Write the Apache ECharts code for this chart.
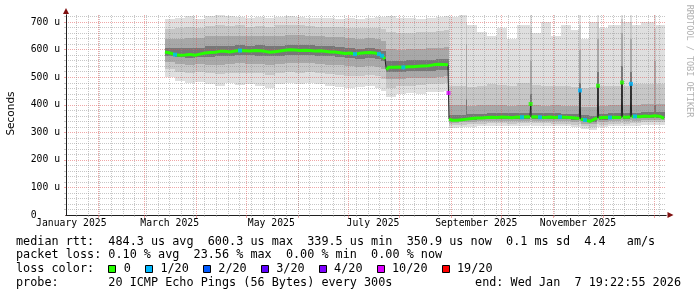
<!DOCTYPE html>
<html>
<head>
<meta charset="utf-8">
<script src="https://cdn.jsdelivr.net/npm/echarts@6/dist/echarts.min.js"></script>
<style>
html,body{margin:0;padding:0;background:#ffffff;}
#chart{width:697px;height:297px;}
</style>
</head>
<body>
<div id="chart"></div>
<script>
// ================= DATA =================
// graph time span (local time)
const rangeStart = '2025-01-12 19:22:55';
const rangeEnd   = '2026-01-07 19:22:55';

// x axis: month grid lines, week grid lines, month labels (centred mid-month)
const monthStarts = ['2025-02-01','2025-03-01','2025-04-01','2025-05-01','2025-06-01','2025-07-01',
                     '2025-08-01','2025-09-01','2025-10-01','2025-11-01','2025-12-01','2026-01-01'];
const firstWeekLine = '2025-01-19';
const monthLabelDates = ['2025-01-16','2025-03-16','2025-05-16','2025-07-16','2025-09-16','2025-11-16'];
const monthLabels = ['January 2025','March 2025','May 2025','July 2025','September 2025','November 2025'];

// y axis (microseconds)
const yMax = 726;
const yTicks = [0,100,200,300,400,500,600,700];
const yTickLabels = ['0','100 u','200 u','300 u','400 u','500 u','600 u','700 u'];
const yMinorTicks = [20,40,60,80,120,140,160,180,220,240,260,280,320,340,360,380,420,440,460,480,
                     520,540,560,580,620,640,660,680,720];

// median rtt: day number (days since 2025-01-01), value (us), loss count (of 20)
const medDay = [71.2,74.2,77.2,80.2,83.2,86.2,89.2,92.2,95.2,98.2,101.2,104.2,107.2,110.2,113.2,116.2,119.2,122.2,
  125.2,128.2,131.2,134.2,137.2,140.2,143.2,146.2,149.2,152.2,155.2,158.2,161.2,164.2,167.2,170.2,173.2,176.2,
  179.2,182.2,185.2,188.2,191.2,194.2,197.2,199.6,201.4,203.2,204.0,205.4,
  208.2,211.2,214.2,217.2,220.2,223.2,226.2,229.2,232.2,235.2,238.2,241.0,241.3,241.6,
  243.4,246.4,249.4,252.4,255.4,258.4,261.4,264.4,267.4,270.4,273.4,276.4,279.4,282.4,285.4,288.4,
  290.2,290.6,291.0,293.2,296.2,299.2,302.2,305.2,308.2,311.2,314.2,317.2,319.8,320.2,320.6,323.2,326.2,
  329.2,330.6,331.0,331.4,335.2,338.2,341.2,345.0,345.4,345.8,347.8,350.4,350.8,351.2,353.2,356.2,359.2,
  362.2,365.2,368.2,370.6];
const medVal = [592,588,582,580,581,583,580,584,588,590,591,594,594,592,595,597,596,595,
  597,596,594,591,593,595,598,600,599,597,598,597,595,596,594,592,592,589,
  586,588,584,587,589,590,588,584,578,566,528,536,
  536,537,536,538,538,540,541,542,545,547,546,545,443,348,
  344,344,346,348,350,352,352,354,355,354,356,355,353,356,355,357,
  356,403,356,357,355,354,356,354,356,355,354,352,350,452,348,345,340,
  349,352,469,352,355,354,355,354,481,356,355,356,476,357,358,357,359,
  358,360,358,351];
const medLoss = [0,0,1,0,0,0,0,0,0,0,0,0,0,0,0,1,0,0,
  0,0,0,0,0,0,0,0,0,0,0,0,0,0,0,0,0,0,
  0,0,1,0,0,0,0,1,1,0,0,0,
  0,0,1,0,0,0,0,0,0,0,0,0,10,0,
  0,0,0,0,0,0,0,0,0,0,0,0,0,0,1,0,
  0,0,0,0,1,0,0,0,1,0,0,0,0,1,0,1,0,
  0,0,0,0,0,1,0,0,0,0,0,0,1,0,1,0,0,
  0,0,0,0];
// points where the coloured median line is interrupted (steep jumps / spikes)
const medJumps = [204.0,241.3,241.6,290.6,291.0,320.2,320.6,331.0,331.4,345.4,345.8,350.8,351.2];

// smoke: start day of each column (last entry = end of last column) and ping distribution edges (us)
const smokeDay = [71.2,77.2,83.2,89.2,95.2,101.2,107.2,113.2,119.2,125.2,131.2,137.2,143.2,149.2,155.2,161.2,
  167.2,173.2,179.2,185.2,191.2,197.2,200.8,
  203.8,209.8,215.8,221.8,227.8,233.8,238.6,
  241.6,247.6,251.8,252.6,258.4,264.4,270.4,276.4,282.4,290.5,291.3,296.8,302.8,308.8,314.8,319.9,320.7,
  325.6,330.7,331.5,337,345.1,345.9,350.5,351.3,356.8,364.9,365.7,371.2];
const p05 = [500,485,478,482,475,470,478,472,476,470,462,474,478,476,480,474,470,466,462,465,468,462,450,
  430,438,442,440,446,448,450,
  315,318,318,320,322,324,323,322,324,326,324,323,322,322,318,320,312,308,320,318,322,324,322,324,324,326,326,326,326];
const p15 = [530,520,515,518,514,512,515,516,517,514,510,515,518,517,518,515,512,510,506,505,508,505,495,
  462,468,470,472,474,476,478,
  326,328,328,330,332,333,333,332,334,336,334,333,332,332,328,330,322,318,330,328,332,334,332,334,334,336,336,336,336];
const p25 = [555,548,545,547,546,546,548,550,549,548,546,548,550,550,550,548,546,544,540,538,540,538,530,
  492,494,496,498,499,502,504,
  334,336,336,338,340,341,341,340,342,346,342,341,340,340,337,340,332,330,340,337,340,344,340,344,342,344,346,344,344];
const p40 = [578,572,570,572,575,576,578,580,579,578,576,578,581,580,580,578,576,574,570,568,571,568,560,
  518,520,521,522,524,527,528,
  342,344,346,346,348,349,350,349,350,380,350,349,349,348,346,400,341,338,420,346,349,430,350,420,351,353,360,353,353];
const p60 = [608,605,606,607,612,613,614,616,615,616,614,615,618,617,616,614,612,610,606,604,607,604,595,
  558,560,561,562,564,566,568,
  362,364,420,366,368,369,370,369,370,440,370,369,369,368,366,480,362,360,520,366,370,540,370,520,371,373,400,373,373];
const p75 = [640,640,642,643,648,650,648,650,648,650,648,650,652,652,650,648,646,645,642,640,642,640,632,
  602,600,602,604,606,608,610,
  400,398,620,396,398,400,398,396,400,560,398,396,398,396,394,600,392,392,640,396,398,660,398,640,400,402,560,402,402];
const p85 = [675,678,682,680,686,688,686,688,684,686,684,688,690,688,686,684,684,682,680,678,680,680,675,
  665,660,662,664,666,668,672,
  470,468,700,466,470,475,472,468,478,680,472,468,470,468,466,690,462,464,700,468,470,710,470,700,474,476,680,476,476];
const p95 = [712,716,722,712,724,725,722,720,716,718,714,720,722,718,716,714,716,712,714,712,715,718,720,
  722,714,716,712,716,718,722,
  720,726,726,690,665,650,680,640,690,726,660,700,650,690,670,726,640,700,726,680,690,726,700,726,690,700,726,690,690];

// loss colour legend
const lossLevels = [0,1,2,3,4,10,19];
const lossLabels = ['0','1/20','2/20','3/20','4/20','10/20','19/20'];
const lossColors = ['#26ff00','#00b8ff','#0059ff','#5e00ff','#7e00ff','#dd00ff','#ff0000'];

// texts
const yAxisTitle = 'Seconds';
const statLines = [
  'median rtt:  484.3 us avg  600.3 us max  339.5 us min  350.9 us now  0.1 ms sd  4.4   am/s',
  'packet loss: 0.10 % avg  23.56 % max  0.00 % min  0.00 % now'
];
const lossTitle = 'loss color:';
const probeText = 'probe:       20 ICMP Echo Pings (56 Bytes) every 300s';
const endText = 'end: Wed Jan  7 19:22:55 2026';
const watermark = 'RRDTOOL / TOBI OETIKER';

// ================= helpers =================
function parseDate(s) {
  const parts = s.split(' ');
  const [y, m, d] = parts[0].split('-').map(Number);
  let hh = 0, mm = 0, ss = 0;
  if (parts[1]) [hh, mm, ss] = parts[1].split(':').map(Number);
  return new Date(y, m - 1, d, hh, mm, ss).getTime();
}
const T0 = new Date(2025, 0, 1).getTime();
const toT = d => T0 + d * 86400000;
const tMin = parseDate(rangeStart), tMax = parseDate(rangeEnd);
const monthTicks = monthStarts.map(parseDate);
const labelTimes = monthLabelDates.map(parseDate);
const weekTicks = [];
for (let dt = new Date(parseDate(firstWeekLine)); dt.getTime() < tMax; dt.setDate(dt.getDate() + 7)) weekTicks.push(dt.getTime());
function lossColor(n) {
  let c = lossColors[0];
  lossLevels.forEach((lv, i) => { if (n >= lv) c = lossColors[i]; });
  return c;
}

const MONO = '"DejaVu Sans Mono", monospace';
const GRID_MINOR = 'rgba(144,144,144,0.5)';
const GRID_MAJOR = 'rgba(224,80,80,0.5)';
const AXIS = '#202020';
const ARROW = '#801010';

// ================= series =================
const series = [];
const edges = [p05, p15, p25, p40, p60, p75, p85, p95];
const bandColors = ['#dfdfdf', '#c7c7c7', '#a8a8a8', '#777777'];
for (let j = 0; j < 4; j++) {
  const lo = edges[j], hi = edges[7 - j];
  const items = [];
  for (let i = 0; i + 1 < smokeDay.length; i++) items.push([toT(smokeDay[i]), toT(smokeDay[i + 1]), lo[i], hi[i]]);
  const color = bandColors[j];
  series.push({
    type: 'custom', silent: true, z: 1,
    encode: { x: [0, 1], y: [2, 3] },
    renderItem: (params, api) => {
      const a = api.coord([api.value(0), api.value(3)]);
      const b = api.coord([api.value(1), api.value(2)]);
      const x0 = Math.round(a[0]), x1 = Math.max(Math.round(b[0]), x0 + 1);
      const y0 = Math.round(a[1]), y1 = Math.round(b[1]);
      return { type: 'rect', shape: { x: x0, y: y0, width: x1 - x0, height: y1 - y0 }, style: { fill: color } };
    },
    data: items
  });
}
// median: thin dark line
series.push({
  type: 'line', symbol: 'none', silent: true, z: 5,
  lineStyle: { color: '#202020', width: 1 },
  data: medDay.map((d, i) => [toT(d), medVal[i]])
});
// median: coloured (no-loss green) thick line, interrupted at jumps
const greenData = [];
medDay.forEach((d, i) => {
  if (medJumps.includes(d)) greenData.push([toT(d) - 1000, '-']);
  greenData.push([toT(d), medVal[i]]);
});
series.push({
  type: 'line', symbol: 'none', silent: true, z: 6, connectNulls: false,
  lineStyle: { color: lossColors[0], width: 3 },
  data: greenData
});
// loss-coloured points and isolated spike tips
const markData = [];
medDay.forEach((d, i) => {
  const iso = medJumps.includes(d) && i + 1 < medDay.length && medJumps.includes(medDay[i + 1]);
  if (medLoss[i] > 0 || iso) markData.push({ value: [toT(d), medVal[i]], itemStyle: { color: lossColor(medLoss[i]) } });
});
series.push({
  type: 'scatter', symbol: 'rect', symbolSize: [4, 4], silent: true, z: 7,
  data: markData
});

// ================= graphic texts / legend =================
const graphic = [];
graphic.push({ type: 'text', x: 11, y: 113.5, rotation: Math.PI / 2, silent: true,
  style: { text: yAxisTitle, fontFamily: '"DejaVu Sans", sans-serif', fontSize: 10.5, fill: '#000', textAlign: 'center', textVerticalAlign: 'middle' } });
graphic.push({ type: 'text', x: 689, y: 61, rotation: -Math.PI / 2, silent: true,
  style: { text: watermark, fontFamily: MONO, fontSize: 8.5, fill: '#b0b0b0', textAlign: 'center', textVerticalAlign: 'middle' } });
const lineY = [241.7, 255.2, 269.3, 283.3];
statLines.forEach((s, i) => graphic.push({ type: 'text', x: 16, y: lineY[i], silent: true,
  style: { text: s, fontFamily: MONO, fontSize: 11.8, fill: '#000', textAlign: 'left', textVerticalAlign: 'middle' } }));
graphic.push({ type: 'text', x: 16, y: lineY[2], silent: true,
  style: { text: lossTitle, fontFamily: MONO, fontSize: 11.8, fill: '#000', textAlign: 'left', textVerticalAlign: 'middle' } });
let lx = 108.3;
const charW = 7.1;
lossLabels.forEach((lab, i) => {
  graphic.push({ type: 'rect', silent: true, shape: { x: Math.round(lx) + 0.5, y: 265.5, width: 7, height: 7 },
    style: { fill: lossColors[i], stroke: '#000', lineWidth: 1 } });
  graphic.push({ type: 'text', x: lx + 15.5, y: lineY[2], silent: true,
    style: { text: lab, fontFamily: MONO, fontSize: 11.8, fill: '#000', textAlign: 'left', textVerticalAlign: 'middle' } });
  lx = lx + 15.5 + lab.length * charW + 14;
});
graphic.push({ type: 'text', x: 16, y: lineY[3], silent: true,
  style: { text: probeText, fontFamily: MONO, fontSize: 11.8, fill: '#000', textAlign: 'left', textVerticalAlign: 'middle' } });
graphic.push({ type: 'text', x: 681, y: lineY[3], silent: true,
  style: { text: endText, fontFamily: MONO, fontSize: 11.8, fill: '#000', textAlign: 'right', textVerticalAlign: 'middle' } });

// ================= axes =================
const hidden = { show: false };
const xAxes = [
  { // months: major grid + labels + axis line
    type: 'value', min: tMin, max: tMax, position: 'bottom', z: 3,
    axisLine: { show: true, onZero: false, lineStyle: { color: AXIS, width: 1 } },
    axisTick: { show: true, customValues: monthTicks, length: 3, lineStyle: { color: GRID_MAJOR } },
    axisLabel: { show: true, customValues: labelTimes, margin: 3, color: '#000', fontFamily: MONO, fontSize: 9.75,
      formatter: v => { const i = labelTimes.findIndex(t => Math.abs(t - v) < 1000); return i >= 0 ? monthLabels[i] : ''; } },
    splitLine: { show: true, lineStyle: { color: GRID_MAJOR, width: 1, type: [1, 1] } }
  },
  { // weeks: minor grid
    type: 'value', min: tMin, max: tMax, position: 'bottom', z: 3,
    axisLine: hidden, axisLabel: hidden,
    axisTick: { show: true, customValues: weekTicks, length: 2, lineStyle: { color: GRID_MINOR } },
    splitLine: { show: true, lineStyle: { color: GRID_MINOR, width: 1, type: [1, 1] } }
  },
  { // arrow
    type: 'value', min: tMin, max: tMax, position: 'bottom', z: 2,
    axisLine: { show: true, onZero: false, symbol: ['none', 'triangle'], symbolSize: [6, 6], symbolOffset: [0, 4.5], lineStyle: { color: ARROW, width: 1 } },
    axisTick: hidden, axisLabel: hidden, splitLine: hidden
  }
];
const yAxes = [
  {
    type: 'value', min: 0, max: yMax, position: 'left', z: 3,
    axisLine: { show: true, onZero: false, lineStyle: { color: AXIS, width: 1 } },
    axisTick: { show: true, customValues: yTicks.filter(v => v > 0), length: 2, lineStyle: { color: GRID_MAJOR } },
    axisLabel: { show: true, customValues: yTicks, margin: 6, color: '#000', fontFamily: MONO, fontSize: 9.75,
      formatter: v => { const i = yTicks.indexOf(v); if (i < 0) return ''; return v === 0 ? yTickLabels[i] + '    ' : yTickLabels[i]; } },
    splitLine: { show: true, lineStyle: { color: GRID_MAJOR, width: 1, type: [1, 1] } }
  },
  {
    type: 'value', min: 0, max: yMax, position: 'left', z: 3,
    axisLine: hidden, axisLabel: hidden,
    axisTick: { show: true, customValues: yMinorTicks, length: 2, lineStyle: { color: GRID_MINOR } },
    splitLine: { show: true, lineStyle: { color: GRID_MINOR, width: 1, type: [1, 1] } }
  },
  {
    type: 'value', min: 0, max: yMax, position: 'left', z: 2,
    axisLine: { show: true, onZero: false, symbol: ['none', 'triangle'], symbolSize: [6, 6], symbolOffset: [0, 4], lineStyle: { color: ARROW, width: 1 } },
    axisTick: hidden, axisLabel: hidden, splitLine: hidden
  }
];

const chart = echarts.init(document.getElementById('chart'), null, { renderer: 'canvas' });
chart.setOption({
  animation: false,
  backgroundColor: '#ffffff',
  grid: { left: 66, right: 31, top: 15, bottom: 82 },
  xAxis: xAxes,
  yAxis: yAxes,
  series: series,
  graphic: graphic
});
</script>
</body>
</html>
